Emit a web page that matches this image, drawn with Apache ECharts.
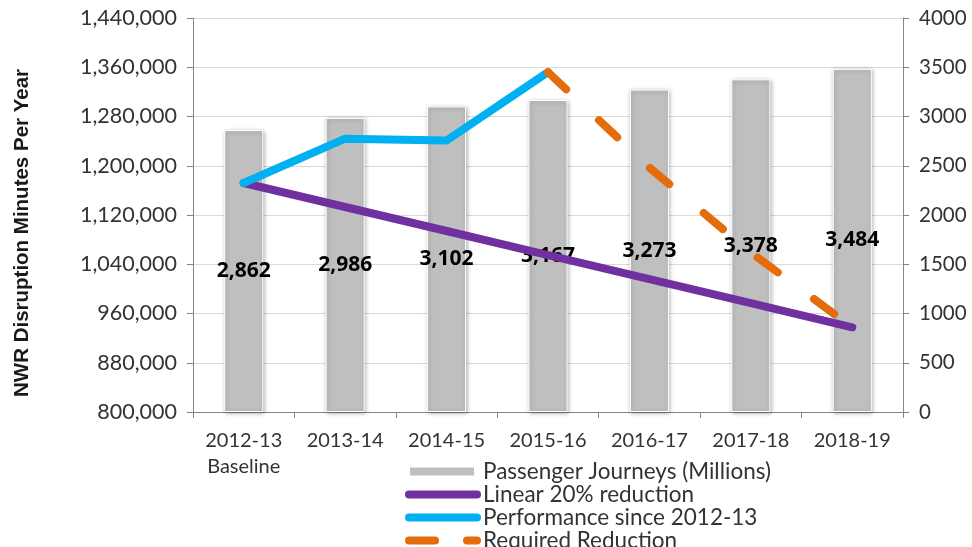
<!DOCTYPE html>
<html>
<head>
<meta charset="utf-8">
<script src="https://cdn.jsdelivr.net/npm/echarts@6/dist/echarts.min.js"></script>
<style>
html,body{margin:0;padding:0;background:#fff;}
#chart{width:972px;height:547px;}
</style>
</head>
<body>
<div id="chart"></div>
<script>
// ---- data ----
const categories = ['2012-13\nBaseline', '2013-14', '2014-15', '2015-16', '2016-17', '2017-18', '2018-19'];
const passengerJourneys = [2862, 2986, 3102, 3167, 3273, 3378, 3484];
const linearReduction = [1172000, 1133000, 1094000, 1054800, 1015700, 976700, 937600];
const performance = [1172000, 1244000, 1241000, 1352000, null, null, null];
const requiredReduction = [null, null, null, 1352000, 1197000, 1059000, 937600];
const seriesNames = ['Passenger Journeys (Millions)', 'Linear 20% reduction', 'Performance since 2012-13', 'Required Reduction'];
const yLeftName = 'NWR Disruption Minutes Per Year';

const FONT = 'Lato';
const TXT = '#333333';
const AXIS = '#868686';

// legend icon shapes (76 x 14 box)
const ICON_BAR = 'path://M0,0M76,14M4,2H70V12H4Z';
const ICON_LINE = 'path://M0,0M76,14M4,3H72A4,4 0 0 1 72,11H4A4,4 0 0 1 4,3Z';
const ICON_DASH = 'path://M0,0M76,14M4,3H30A4,4 0 0 1 30,11H4A4,4 0 0 1 4,3ZM62,3H72A4,4 0 0 1 72,11H62A4,4 0 0 1 62,3Z';

const chart = echarts.init(document.getElementById('chart'));
chart.setOption({
  animation: false,
  backgroundColor: '#ffffff',
  grid: { left: 193, right: 69, top: 18, bottom: 135, containLabel: false },
  legend: {
    orient: 'vertical',
    left: 404,
    top: 460,
    height: 120,
    padding: 0,
    itemWidth: 76,
    itemHeight: 14,
    itemGap: 0,
    textStyle: { fontFamily: FONT, fontSize: 22.5, color: TXT, lineHeight: 21, padding: [0, 0, 0, -3] },
    data: [
      { name: seriesNames[0], icon: ICON_BAR },
      { name: seriesNames[1], icon: ICON_LINE },
      { name: seriesNames[2], icon: ICON_LINE },
      { name: seriesNames[3], icon: ICON_DASH }
    ]
  },
  xAxis: {
    type: 'category',
    data: categories,
    boundaryGap: true,
    axisLine: { lineStyle: { color: AXIS, width: 1 } },
    axisTick: { show: true, length: 6, alignWithLabel: false, lineStyle: { color: AXIS } },
    axisLabel: { fontFamily: FONT, fontSize: 20, color: TXT, margin: 16, lineHeight: 26, interval: 0 }
  },
  yAxis: [
    {
      type: 'value',
      min: 800000, max: 1440000, interval: 80000,
      name: yLeftName,
      nameLocation: 'middle',
      nameGap: 160,
      nameRotate: 90,
      nameTextStyle: { fontFamily: 'Liberation Sans', fontWeight: 'bold', fontSize: 20.5, color: '#1a1a1a', padding: [0, 36, 0, 0] },
      axisLine: { show: true, lineStyle: { color: AXIS } },
      axisTick: { show: true, length: 6, lineStyle: { color: AXIS } },
      axisLabel: { fontFamily: FONT, fontSize: 21.5, color: TXT, margin: 16, formatter: v => echarts.format.addCommas(v) },
      splitLine: { show: true, lineStyle: { color: '#D9D9D9', width: 1 } }
    },
    {
      type: 'value',
      min: 0, max: 4000, interval: 500,
      position: 'right',
      axisLine: { show: true, lineStyle: { color: AXIS } },
      axisTick: { show: true, length: 6, lineStyle: { color: AXIS } },
      axisLabel: { fontFamily: FONT, fontSize: 20.5, color: TXT, margin: 16, formatter: v => String(v) },
      splitLine: { show: false }
    }
  ],
  series: [
    {
      name: seriesNames[0],
      type: 'bar',
      yAxisIndex: 1,
      data: passengerJourneys,
      barWidth: 39,
      z: 2,
      itemStyle: { color: '#BFBFBF', borderColor: '#ffffff', borderWidth: 1, shadowColor: 'rgba(0,0,0,0.3)', shadowBlur: 4, shadowOffsetX: 1, shadowOffsetY: 1 },
      label: {
        show: true, position: 'inside', color: '#000', fontFamily: 'Open Sans', fontSize: 21, fontWeight: 'bold',
        formatter: p => echarts.format.addCommas(p.value)
      }
    },
    {
      name: seriesNames[1],
      type: 'line',
      yAxisIndex: 0,
      data: linearReduction,
      symbol: 'none',
      z: 5,
      lineStyle: { color: '#7030A0', width: 8, cap: 'round', join: 'round' },
      itemStyle: { color: '#7030A0' }
    },
    {
      name: seriesNames[2],
      type: 'line',
      yAxisIndex: 0,
      data: performance,
      symbol: 'none',
      z: 6,
      lineStyle: { color: '#00B0F0', width: 8, cap: 'round', join: 'round' },
      itemStyle: { color: '#00B0F0' }
    },
    {
      name: seriesNames[3],
      type: 'line',
      yAxisIndex: 0,
      data: requiredReduction,
      symbol: 'none',
      z: 7,
      lineStyle: { color: '#E46C0A', width: 8, type: [25, 45], cap: 'round', join: 'round' },
      itemStyle: { color: '#E46C0A' }
    }
  ]
});
</script>
</body>
</html>
